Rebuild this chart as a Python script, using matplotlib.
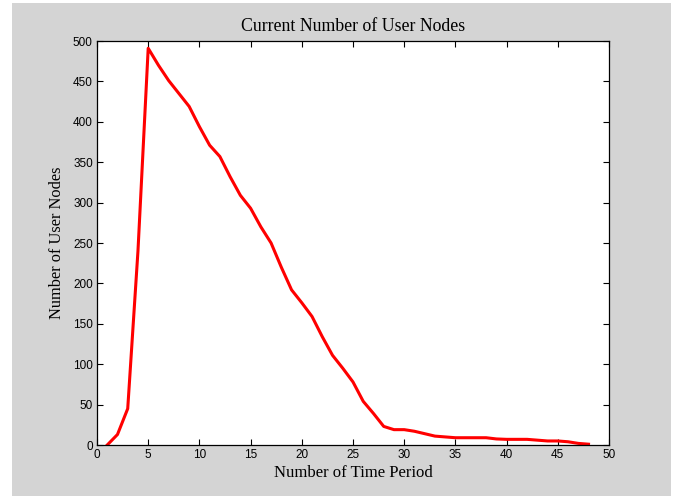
import matplotlib
matplotlib.use("Agg")
import matplotlib.pyplot as plt
from matplotlib.patches import Rectangle

# time periods and current number of user nodes
period = list(range(1, 49))
nodes = [0, 13, 45, 240, 491, 470, 451, 435, 419, 394,
         371, 357, 332, 309, 293, 270, 250, 220, 192, 176,
         159, 134, 111, 95, 78, 54, 39, 23, 19, 19,
         17, 14, 11, 10, 9, 9, 9, 9, 7.5, 7,
         7, 7, 6, 5, 5, 4, 2, 1]

xticks = list(range(0, 55, 5))
yticks = list(range(0, 550, 50))

bg = "#d4d4d4"
serif = ["Liberation Serif", "DejaVu Serif"]
sans = ["Liberation Sans", "DejaVu Sans"]

fig = plt.figure(figsize=(6.83, 4.96), dpi=100, facecolor="white")
# grey MATLAB-style figure panel with a thin white border
fig.patches.append(Rectangle((12 / 683, 0), (671 - 12) / 683, 1 - 3 / 496,
                             transform=fig.transFigure, facecolor=bg,
                             edgecolor="none", zorder=-10))

ax = fig.add_axes([97 / 683, 51 / 496, (609 - 97) / 683, (445 - 41) / 496])
ax.set_facecolor("white")
ax.plot(period, nodes, color="#ff0000", lw=2.2, solid_joinstyle="round")

ax.set_xlim(0, 50)
ax.set_ylim(0, 500)
ax.set_xticks(xticks)
ax.set_yticks(yticks)
ax.tick_params(direction="in", top=True, right=True, length=4.5, width=0.8,
               labelsize=8.5, pad=3, colors="black")
for lab in ax.get_xticklabels() + ax.get_yticklabels():
    lab.set_family(sans)
for sp in ax.spines.values():
    sp.set_linewidth(0.9)
    sp.set_color("black")

ax.set_title("Current Number of User Nodes", family=serif, fontsize=12.8, pad=7)
ax.set_xlabel("Number of Time Period", family=serif, fontsize=12, labelpad=3)
ax.set_ylabel("Number of User Nodes", family=serif, fontsize=11.8, labelpad=6)

fig.savefig("out.png", dpi=100, facecolor="white")
